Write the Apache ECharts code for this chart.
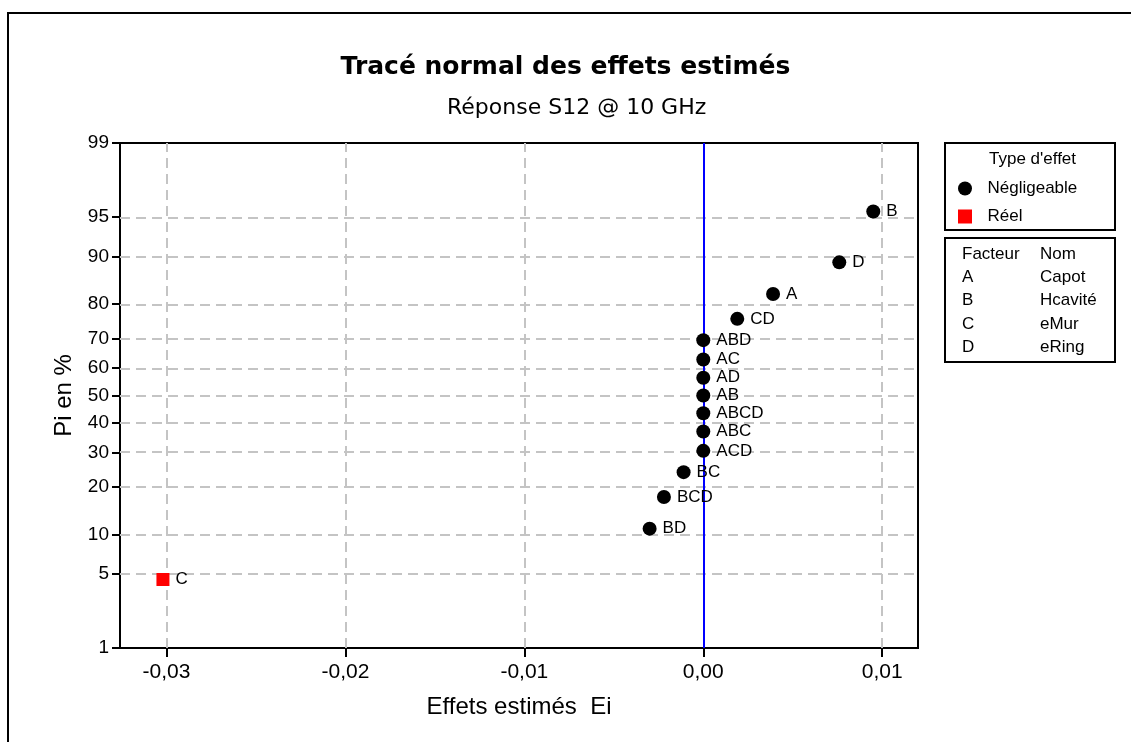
<!DOCTYPE html>
<html>
<head>
<meta charset="utf-8">
<title>Tracé normal des effets estimés</title>
<script src="https://cdn.jsdelivr.net/npm/echarts@6/dist/echarts.min.js"></script>
<style>
  html, body { margin: 0; padding: 0; background: #fff; }
  #normalPlot { width: 1131px; height: 742px; }
</style>
</head>
<body>
<div id="normalPlot"></div>
<script>
// effets estimés, classés du plus petit au plus grand
const effectNames = ['C', 'BD', 'BCD', 'BC', 'ACD', 'ABC', 'ABCD', 'AB', 'AD', 'AC', 'ABD', 'CD', 'A', 'D', 'B'];
const effectValues = [-0.0302, -0.0030, -0.0022, -0.0011, 0, 0, 0, 0, 0, 0, 0, 0.0019, 0.0039, 0.0076, 0.0095];
const effectPercents = [4.5, 11.0, 17.5, 24.0, 30.5, 37.0, 43.5, 50.0, 56.5, 63.0, 69.5, 76.0, 82.5, 89.0, 95.5];
const effectTypes = ['Réel', 'Négligeable', 'Négligeable', 'Négligeable', 'Négligeable', 'Négligeable',
  'Négligeable', 'Négligeable', 'Négligeable', 'Négligeable', 'Négligeable', 'Négligeable',
  'Négligeable', 'Négligeable', 'Négligeable'];

const yTicks = [1, 5, 10, 20, 30, 40, 50, 60, 70, 80, 90, 95, 99];
const xTicks = [-0.03, -0.02, -0.01, 0, 0.01];
const xGridValues = [-0.03, -0.025, -0.02, -0.015, -0.01, -0.005, 0, 0.005, 0.01];

const factorLetters = ['A', 'B', 'C', 'D'];
const factorNames = ['Capot', 'Hcavité', 'eMur', 'eRing'];

// quantile de la loi normale (échelle de probabilité), algorithme d'Acklam
function probit(p) {
  const a = [-3.969683028665376e+01, 2.209460984245205e+02, -2.759285104469687e+02,
    1.383577518672690e+02, -3.066479806614716e+01, 2.506628277459239e+00];
  const b = [-5.447609879822406e+01, 1.615858368580409e+02, -1.556989798598866e+02,
    6.680131188771972e+01, -1.328068155288572e+01];
  const c = [-7.784894002430293e-03, -3.223964580411365e-01, -2.400758277161838e+00,
    -2.549732539343734e+00, 4.374664141464968e+00, 2.938163982698783e+00];
  const d = [7.784695709041462e-03, 3.224671290700398e-01, 2.445134137142996e+00,
    3.754408661907416e+00];
  const pLow = 0.02425;
  let q, r;
  if (p < pLow) {
    q = Math.sqrt(-2 * Math.log(p));
    return (((((c[0] * q + c[1]) * q + c[2]) * q + c[3]) * q + c[4]) * q + c[5]) /
      ((((d[0] * q + d[1]) * q + d[2]) * q + d[3]) * q + 1);
  }
  if (p > 1 - pLow) {
    q = Math.sqrt(-2 * Math.log(1 - p));
    return -(((((c[0] * q + c[1]) * q + c[2]) * q + c[3]) * q + c[4]) * q + c[5]) /
      ((((d[0] * q + d[1]) * q + d[2]) * q + d[3]) * q + 1);
  }
  q = p - 0.5;
  r = q * q;
  return (((((a[0] * r + a[1]) * r + a[2]) * r + a[3]) * r + a[4]) * r + a[5]) * q /
    (((((b[0] * r + b[1]) * r + b[2]) * r + b[3]) * r + b[4]) * r + 1);
}
const zOf = pct => probit(pct / 100);
const yTickZ = yTicks.map(zOf);

function pointsOf(type) {
  const out = [];
  effectNames.forEach((name, i) => {
    if (effectTypes[i] === type) {
      out.push({ name: name, value: [effectValues[i], zOf(effectPercents[i])] });
    }
  });
  return out;
}

const gridLine = { color: '#c4c4c4', width: 2, type: [10, 6] };
const sansFont = '"Liberation Sans", Arial, sans-serif';
const titleFont = '"DejaVu Sans", Verdana, sans-serif';

const pointLabel = {
  show: true,
  position: 'right',
  distance: 6,
  formatter: '{b}',
  fontFamily: sansFont,
  fontSize: 17,
  color: '#000',
};

const myChart = echarts.init(document.getElementById('normalPlot'));
const option = {
  animation: false,
  backgroundColor: '#fff',
  title: [
    {
      text: 'Tracé normal des effets estimés',
      left: 'center',
      top: 50,
      textStyle: { fontFamily: titleFont, fontSize: 25, fontWeight: 'bold', color: '#000' },
    },
    {
      text: 'Réponse S12 @ 10 GHz',
      left: 442,
      top: 92,
      textStyle: { fontFamily: titleFont, fontSize: 22, fontWeight: 'normal', color: '#000' },
    },
  ],
  legend: {
    orient: 'vertical',
    left: 953,
    top: 175,
    itemWidth: 35,
    itemHeight: 14,
    itemGap: 11,
    selectedMode: false,
    data: [
      { name: 'Négligeable', icon: 'circle', itemStyle: { color: '#000', opacity: 1 } },
      { name: 'Réel', icon: 'path://M0,0L1,0L1,1L0,1Z', itemStyle: { color: '#ff0000', opacity: 1 } },
    ],
    textStyle: { fontFamily: sansFont, fontSize: 17, color: '#000' },
  },
  grid: {
    left: 120,
    right: 213,
    top: 143,
    bottom: 94,
    show: true,
    borderColor: '#000',
    borderWidth: 2,
  },
  xAxis: {
    type: 'value',
    min: -0.0326,
    max: 0.012,
    name: 'Effets estimés  Ei',
    nameLocation: 'middle',
    nameGap: 47,
    nameTextStyle: { fontFamily: sansFont, fontSize: 24, color: '#000' },
    splitLine: { show: false },
    axisLine: { show: true, onZero: false, lineStyle: { color: '#000', width: 2 } },
    axisTick: { show: true, customValues: xTicks, length: 9, lineStyle: { color: '#000', width: 2 } },
    axisLabel: {
      customValues: xTicks,
      margin: 14,
      fontFamily: sansFont,
      fontSize: 21,
      color: '#000',
      formatter: v => (Math.abs(v) < 1e-9 ? 0 : v).toFixed(2).replace('.', ','),
    },
  },
  yAxis: {
    type: 'value',
    min: zOf(1),
    max: zOf(99),
    name: 'Pi en %',
    nameLocation: 'middle',
    nameGap: 44,
    nameTextStyle: { fontFamily: sansFont, fontSize: 24, color: '#000' },
    splitLine: { show: false },
    axisLine: { show: true, onZero: false, lineStyle: { color: '#000', width: 2 } },
    axisTick: { show: true, customValues: yTickZ, length: 8, lineStyle: { color: '#000', width: 2 } },
    axisLabel: {
      customValues: yTickZ,
      margin: 11,
      fontFamily: sansFont,
      fontSize: 19,
      color: '#000',
      formatter: v => {
        let best = 0;
        yTickZ.forEach((z, i) => {
          if (Math.abs(z - v) < Math.abs(yTickZ[best] - v)) best = i;
        });
        return String(yTicks[best]);
      },
    },
  },
  series: [
    {
      name: 'grille',
      type: 'line',
      data: [],
      silent: true,
      markLine: {
        silent: true,
        symbol: 'none',
        animation: false,
        label: { show: false },
        lineStyle: gridLine,
        data: xGridValues.map(x => ({ xAxis: x }))
          .concat(yTicks.slice(1, -1).map(p => ({ yAxis: zOf(p) }))),
      },
    },
    {
      name: 'zero',
      type: 'line',
      data: [],
      silent: true,
      markLine: {
        silent: true,
        symbol: 'none',
        animation: false,
        label: { show: false },
        lineStyle: { color: '#0000ff', width: 2, type: 'solid' },
        data: [{ xAxis: 0 }],
      },
    },
    {
      name: 'Négligeable',
      type: 'scatter',
      symbol: 'circle',
      symbolSize: 14,
      itemStyle: { color: '#000', opacity: 1 },
      label: pointLabel,
      data: pointsOf('Négligeable'),
      z: 5,
    },
    {
      name: 'Réel',
      type: 'scatter',
      symbol: 'rect',
      symbolSize: 13,
      itemStyle: { color: '#ff0000', opacity: 1 },
      label: pointLabel,
      data: pointsOf('Réel'),
      z: 5,
    },
  ],
  graphic: [
    // cadre extérieur
    {
      type: 'rect',
      shape: { x: 8, y: 13, width: 1400, height: 1000 },
      style: { fill: 'none', stroke: '#000', lineWidth: 2 },
      silent: true,
    },
    // boîte du type d'effet
    {
      type: 'rect',
      shape: { x: 945, y: 143, width: 170, height: 87 },
      style: { fill: 'none', stroke: '#000', lineWidth: 2 },
      silent: true,
    },
    {
      type: 'text',
      left: 989,
      top: 151,
      style: { text: "Type d'effet", font: '17px ' + sansFont, fill: '#000' },
    },
    // boîte des facteurs
    {
      type: 'rect',
      shape: { x: 945, y: 238, width: 170, height: 124 },
      style: { fill: 'none', stroke: '#000', lineWidth: 2 },
      silent: true,
    },
    {
      type: 'text',
      left: 962,
      top: 246,
      style: { text: 'Facteur', font: '17px ' + sansFont, fill: '#000' },
    },
    {
      type: 'text',
      left: 1040,
      top: 246,
      style: { text: 'Nom', font: '17px ' + sansFont, fill: '#000' },
    },
  ].concat(
    factorLetters.map((f, i) => ({
      type: 'text',
      left: 962,
      top: 269 + i * 23.3,
      style: { text: f, font: '17px ' + sansFont, fill: '#000' },
    })),
    factorNames.map((n, i) => ({
      type: 'text',
      left: 1040,
      top: 269 + i * 23.3,
      style: { text: n, font: '17px ' + sansFont, fill: '#000' },
    }))
  ),
};
myChart.setOption(option);
</script>
</body>
</html>
